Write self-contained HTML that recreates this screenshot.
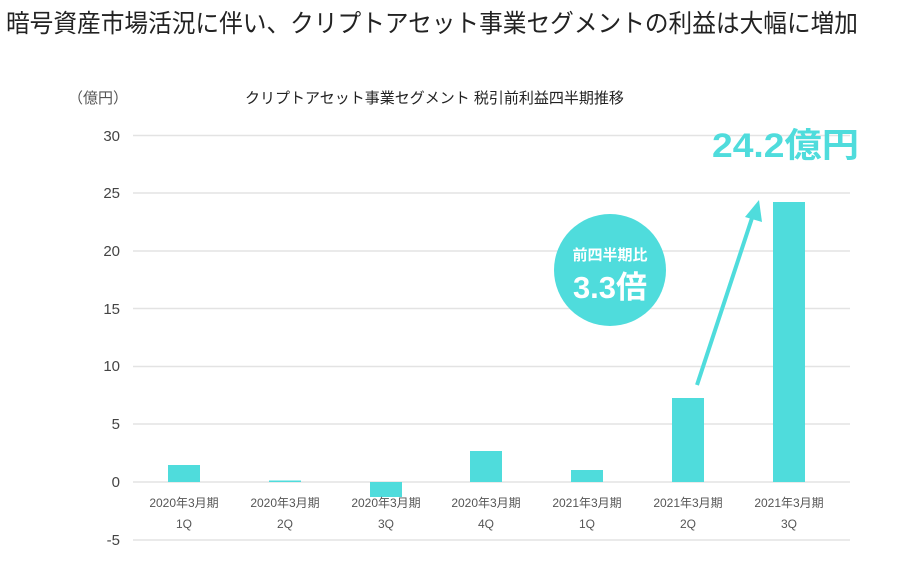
<!DOCTYPE html>
<html><head><meta charset="utf-8"><style>
body{margin:0;background:#fff;width:910px;height:556px;overflow:hidden;font-family:"Liberation Sans","Noto Sans CJK JP",sans-serif}
</style></head><body>
<svg width="910" height="556" xmlns="http://www.w3.org/2000/svg" font-family="Liberation Sans, Noto Sans CJK JP, sans-serif">
<text x="6" y="32" font-size="25" fill="#222" textLength="852" lengthAdjust="spacingAndGlyphs">暗号資産市場活況に伴い、クリプトアセット事業セグメントの利益は大幅に増加</text>
<text x="68" y="103" font-size="15" fill="#555">（億円）</text>
<text x="245" y="103" font-size="15" fill="#222">クリプトアセット事業セグメント 税引前利益四半期推移</text>
<g stroke="#e3e3e3" stroke-width="1.5">
<line x1="133" x2="850" y1="135.5" y2="135.5"/><line x1="133" x2="850" y1="193" y2="193"/>
<line x1="133" x2="850" y1="251" y2="251"/><line x1="133" x2="850" y1="308.5" y2="308.5"/>
<line x1="133" x2="850" y1="366.5" y2="366.5"/><line x1="133" x2="850" y1="424" y2="424"/>
<line x1="133" x2="850" y1="482" y2="482"/><line x1="133" x2="850" y1="540" y2="540"/>
</g>
<g font-size="15" fill="#444" text-anchor="end">
<text x="120" y="141">30</text><text x="120" y="198">25</text><text x="120" y="256">20</text>
<text x="120" y="314">15</text><text x="120" y="371">10</text><text x="120" y="429">5</text>
<text x="120" y="487">0</text><text x="120" y="545">-5</text>
</g>
<g fill="#4fdcdc">
<rect x="168" y="465" width="32" height="17"/>
<rect x="269" y="480.5" width="32" height="1.5"/>
<rect x="370" y="482" width="32" height="15"/>
<rect x="470" y="451" width="32" height="31"/>
<rect x="571" y="470" width="32" height="12"/>
<rect x="672" y="398" width="32" height="84"/>
<rect x="773" y="202" width="32" height="280"/>
</g>
<g font-size="12" fill="#555" text-anchor="middle">
<text x="184" y="507">2020年3月期</text><text x="184" y="528">1Q</text>
<text x="285" y="507">2020年3月期</text><text x="285" y="528">2Q</text>
<text x="386" y="507">2020年3月期</text><text x="386" y="528">3Q</text>
<text x="486" y="507">2020年3月期</text><text x="486" y="528">4Q</text>
<text x="587" y="507">2021年3月期</text><text x="587" y="528">1Q</text>
<text x="688" y="507">2021年3月期</text><text x="688" y="528">2Q</text>
<text x="789" y="507">2021年3月期</text><text x="789" y="528">3Q</text>
</g>
<circle cx="610" cy="270" r="56" fill="#4fdcdc"/>
<text x="610" y="260" font-size="15" font-weight="bold" fill="#fff" text-anchor="middle">前四半期比</text>
<text x="610" y="298" font-size="31" font-weight="bold" fill="#fff" text-anchor="middle">3.3倍</text>
<line x1="697" y1="385" x2="753" y2="215" stroke="#4fdcdc" stroke-width="4"/>
<polygon points="759,200 745,217 762,222" fill="#4fdcdc"/>
<text x="712" y="157" font-size="34" font-weight="bold" fill="#4fdcdc" textLength="147" lengthAdjust="spacingAndGlyphs">24.2億円</text>
</svg>
</body></html>
